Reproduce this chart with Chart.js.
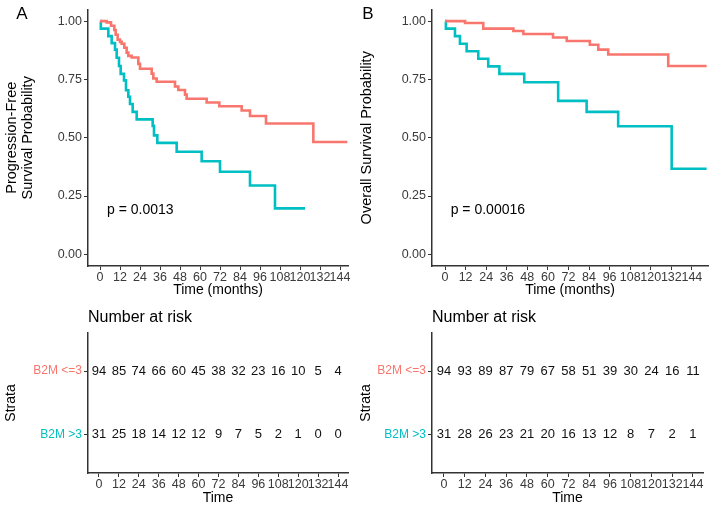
<!DOCTYPE html>
<html>
<head>
<meta charset="utf-8">
<script src="https://cdn.jsdelivr.net/npm/chart.js@4.4.0/dist/chart.umd.min.js"></script>
<style>
body{margin:0;background:#fff;width:709px;height:507px;overflow:hidden;position:relative}
canvas{position:absolute}
</style>
</head>
<body>
<canvas id="kmA" width="355" height="300" style="left:0;top:0"></canvas>
<canvas id="kmB" width="354" height="300" style="left:355px;top:0"></canvas>
<canvas id="riskA" width="355" height="207" style="left:0;top:300px"></canvas>
<canvas id="riskB" width="354" height="207" style="left:355px;top:300px"></canvas>
<script>
const timeTicks = [0,12,24,36,48,60,72,84,96,108,120,132,144]
const survTicks = [0,0.25,0.5,0.75,1]
const strata = ['B2M <=3','B2M >3']
const strataColors = ['#F8766D','#00BFC4']
const pValues = ['p = 0.0013','p = 0.00016']

// panel A - progression free survival
const pfsLowTime = [0,4,6.6,8.6,9.4,10.6,12,13,14.6,16,17,19,23,24,31,32,34,45,47,51,52,64,71.6,85,90,99.6,128,148.4]
const pfsLowSurv = [1,0.995,0.98,0.962,0.942,0.921,0.911,0.903,0.886,0.865,0.851,0.844,0.817,0.796,0.775,0.754,0.740,0.72,0.705,0.685,0.667,0.651,0.635,0.617,0.593,0.561,0.482,0.482]
const pfsHighTime = [0,0.5,5,7,9,10,11.4,12.4,14.4,15.6,17,18,19.6,22,31.6,32.4,34.4,46,61,72,90,105,123]
const pfsHighSurv = [1,0.968,0.936,0.906,0.878,0.843,0.808,0.774,0.746,0.704,0.676,0.645,0.611,0.579,0.551,0.51,0.478,0.44,0.399,0.354,0.295,0.197,0.197]

// panel B - overall survival
const osLowTime = [0,11.7,22.3,39.9,45.7,63,71,84.5,89.4,95.2,130.2,152.6]
const osLowSurv = [1,0.992,0.968,0.958,0.945,0.93,0.915,0.899,0.878,0.857,0.808,0.808]
const osHighTime = [0,0.5,5.8,8.7,12.6,19.4,25.2,31.7,46.2,66,82.6,101,132.2,152.6]
const osHighSurv = [1,0.968,0.936,0.903,0.871,0.839,0.806,0.774,0.738,0.658,0.611,0.549,0.367,0.367]

// number at risk
const riskPfsLow = [94,85,74,66,60,45,38,32,23,16,10,5,4]
const riskPfsHigh = [31,25,18,14,12,12,9,7,5,2,1,0,0]
const riskOsLow = [94,93,89,87,79,67,58,51,39,30,24,16,11]
const riskOsHigh = [31,28,26,23,21,20,16,13,12,8,7,2,1]

const family = "'Liberation Sans', Arial, sans-serif"
const axisCol = '#333333'
const tickCol = '#3a3a3a'
Chart.defaults.font.family = family

const textPlugin = {
  id: 'extraText',
  afterDraw(chart, args, opts) {
    const ctx = chart.ctx
    ctx.save()
    ;(opts.items || []).forEach(it => {
      ctx.font = it.font
      ctx.fillStyle = it.color || '#000'
      ctx.textAlign = it.align || 'left'
      ctx.textBaseline = 'middle'
      const px = it.data ? chart.scales.x.getPixelForValue(it.x) : it.x
      const py = it.data ? chart.scales.y.getPixelForValue(it.y) : it.y
      ctx.fillText(it.text, px, py)
    })
    ctx.restore()
  }
}

const riskText = {
  id: 'riskText',
  afterDatasetsDraw(chart) {
    const ctx = chart.ctx
    ctx.save()
    ctx.font = '13px ' + family
    ctx.fillStyle = '#111'
    ctx.textAlign = 'center'
    ctx.textBaseline = 'middle'
    chart.data.datasets.forEach((ds, di) => {
      chart.getDatasetMeta(di).data.forEach((pt, i) => {
        ctx.fillText(String(ds.data[i].n), pt.x, pt.y)
      })
    })
    ctx.restore()
  }
}

function steps(times, surv) {
  return times.map((t, i) => ({x: t, y: surv[i]}))
}

function xAxis(min, max, title, titlePad) {
  return {
    type: 'linear', min: min, max: max,
    afterBuildTicks: s => { s.ticks = timeTicks.map(v => ({value: v})) },
    afterFit: s => { s.height = 34 },
    grid: {drawOnChartArea: false, tickLength: 4, color: axisCol, lineWidth: 1},
    border: {color: axisCol, width: 1.5},
    ticks: {autoSkip: false, maxRotation: 0, minRotation: 0, color: tickCol, font: {size: 12.5}, padding: 0, callback: v => String(v)},
    title: {display: true, text: title, color: '#000', font: {size: 14}, padding: {top: 0, bottom: titlePad}}
  }
}

function kmChart(id, low, high, o) {
  new Chart(document.getElementById(id), {
    type: 'line',
    data: {datasets: [
      {label: strata[0], data: low, borderColor: strataColors[0], stepped: true, borderWidth: 2.6, pointRadius: 0, fill: false},
      {label: strata[1], data: high, borderColor: strataColors[1], stepped: true, borderWidth: 2.6, pointRadius: 0, fill: false}
    ]},
    options: {
      responsive: false, animation: false,
      layout: {padding: {top: 3, right: o.padRight, left: 0, bottom: 0}},
      plugins: {legend: {display: false}, tooltip: {enabled: false}, extraText: {items: o.texts}},
      scales: {
        x: xAxis(o.xMin, o.xMax, 'Time (months)', 1.5),
        y: {
          type: 'linear', min: -0.05, max: 1.05,
          afterBuildTicks: s => { s.ticks = survTicks.map(v => ({value: v})) },
          afterFit: s => { s.width = o.yWidth },
          grid: {drawOnChartArea: false, tickLength: 4, color: axisCol, lineWidth: 1},
          border: {color: axisCol, width: 1.5},
          ticks: {color: tickCol, font: {size: 12.5}, padding: 2, callback: v => v.toFixed(2)},
          title: {display: true, text: o.yTitle, color: '#000', font: {size: 14.5, lineHeight: 1.1}, padding: {top: 4, bottom: 0}}
        }
      }
    },
    plugins: [textPlugin]
  })
}

const rowPos = [2, 1]

function riskChart(id, low, high, o) {
  new Chart(document.getElementById(id), {
    type: 'scatter',
    data: {datasets: [
      {label: strata[0], data: timeTicks.map((t, i) => ({x: t, y: rowPos[0], n: low[i]})), pointRadius: 0},
      {label: strata[1], data: timeTicks.map((t, i) => ({x: t, y: rowPos[1], n: high[i]})), pointRadius: 0}
    ]},
    options: {
      responsive: false, animation: false,
      layout: {padding: {top: 33, right: o.padRight, left: 0, bottom: 0}},
      plugins: {legend: {display: false}, tooltip: {enabled: false}, extraText: {items: o.texts}},
      scales: {
        x: xAxis(o.xMin, o.xMax, 'Time', 0),
        y: {
          type: 'linear', min: 0.4, max: 2.6,
          afterBuildTicks: s => { s.ticks = rowPos.map(v => ({value: v})) },
          afterFit: s => { s.width = o.yWidth },
          grid: {drawOnChartArea: false, tickLength: 4, color: axisCol, lineWidth: 1},
          border: {color: axisCol, width: 1.5},
          ticks: {font: {size: 12}, padding: 2,
            color: c => strataColors[rowPos.indexOf(c.tick.value)],
            callback: v => strata[rowPos.indexOf(v)]},
          title: {display: true, text: 'Strata', color: '#000', font: {size: 14}, padding: {top: 3, bottom: 0}}
        }
      }
    },
    plugins: [textPlugin, riskText]
  })
}

kmChart('kmA', steps(pfsLowTime, pfsLowSurv), steps(pfsHighTime, pfsHighSurv), {
  xMin: -7.2, xMax: 148.8, yWidth: 88, padRight: 7,
  yTitle: ['Progression-Free', 'Survival Probability'],
  texts: [
    {text: 'A', x: 22, y: 14, font: '17px ' + family, align: 'center'},
    {text: pValues[0], x: 4.2, y: 0.19, data: true, font: '14px ' + family}
  ]
})
kmChart('kmB', steps(osLowTime, osLowSurv), steps(osHighTime, osHighSurv), {
  xMin: -7.6, xMax: 153.4, yWidth: 77, padRight: 1,
  yTitle: 'Overall Survival Probability',
  texts: [
    {text: 'B', x: 13, y: 14, font: '17px ' + family, align: 'center'},
    {text: pValues[1], x: 3.3, y: 0.19, data: true, font: '14px ' + family}
  ]
})
riskChart('riskA', riskPfsLow, riskPfsHigh, {
  xMin: -6.6, xMax: 150, yWidth: 88, padRight: 7,
  texts: [{text: 'Number at risk', x: 88, y: 18, font: '16px ' + family}]
})
riskChart('riskB', riskOsLow, riskOsHigh, {
  xMin: -6.9, xMax: 149.8, yWidth: 77, padRight: 6,
  texts: [{text: 'Number at risk', x: 77, y: 18, font: '16px ' + family}]
})
</script>
</body>
</html>
